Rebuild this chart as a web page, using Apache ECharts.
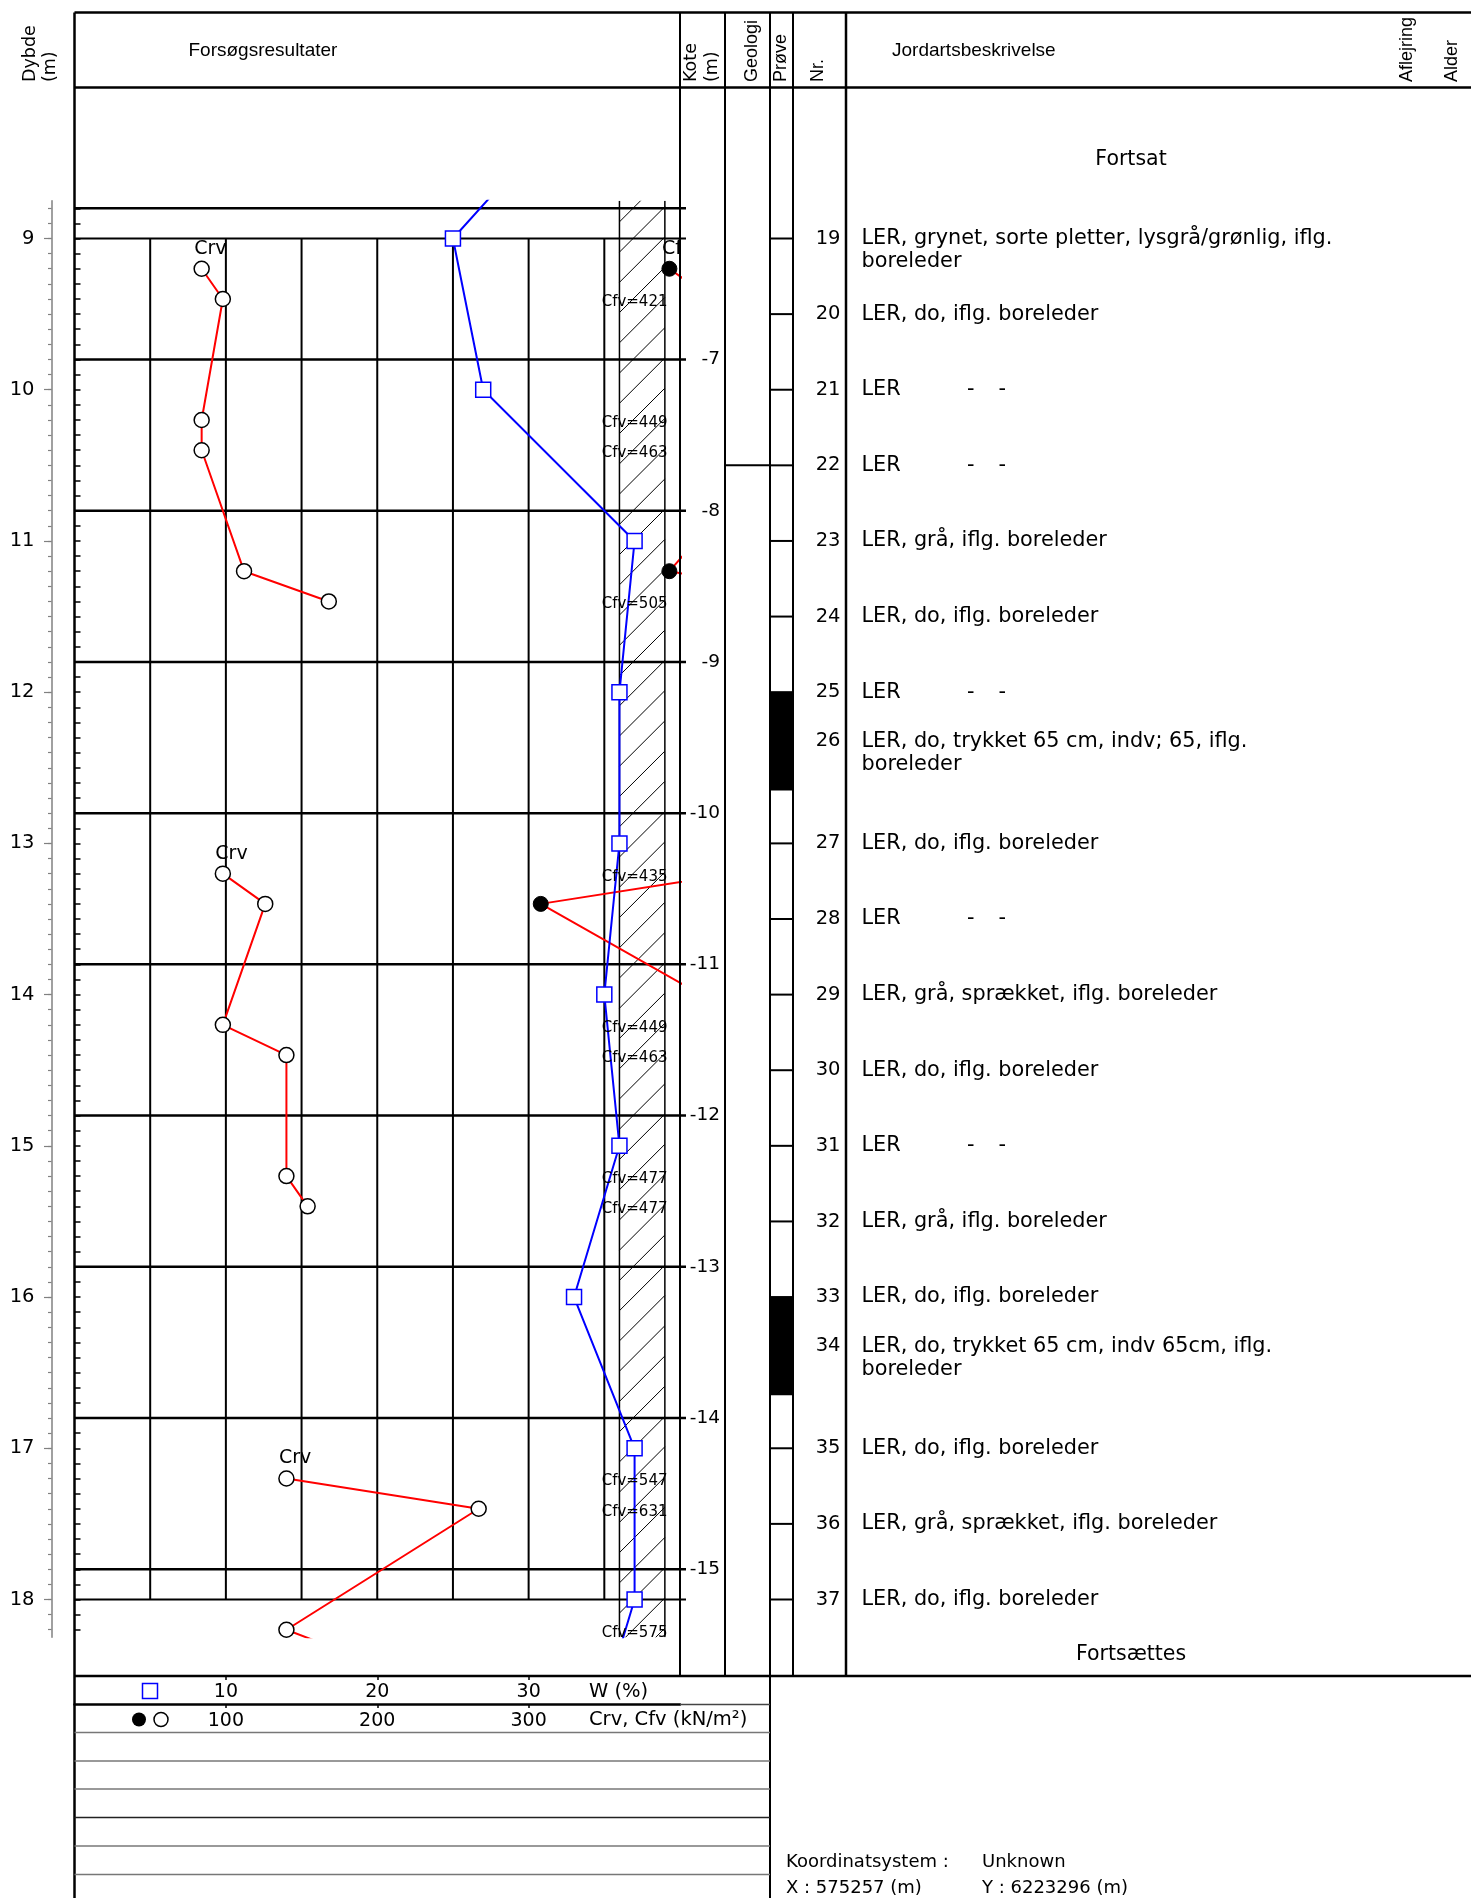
<!DOCTYPE html>
<html>
<head>
<meta charset="utf-8">
<script src="https://cdn.jsdelivr.net/npm/echarts@6/dist/echarts.min.js"></script>
<style>
  html, body { margin: 0; padding: 0; background: #fff; }
  #log { width: 1471px; height: 1898px; }
</style>
</head>
<body>
<div id="log"></div>
<script>
// ---- sheet window (depth below terrain, m) and terrain level ----
const depthWindow = [8.75, 18.25];
const terrainKote = 2.8;

// ---- water content W (%) ----
const wDepths = [8, 9, 10, 11, 12, 13, 14, 15, 16, 17, 18, 19];
const wValues = [34, 25, 27, 37, 36, 36, 35, 36, 33, 37, 37, 34];

// ---- vane tests: Crv (remoulded) and Cfv (intact), kN/m² ----
const vaneDepths1 = [9.2, 9.4, 10.2, 10.4, 11.2, 11.4];
const crv1 = [84, 98, 84, 84, 112, 168];
const cfv1 = [393, 421, 449, 463, 393, 505];

const vaneDepths2 = [13.2, 13.4, 14.2, 14.4, 15.2, 15.4];
const crv2 = [98, 126, 98, 140, 140, 154];
const cfv2 = [435, 308, 449, 463, 477, 477];

const vaneDepths3 = [17.2, 17.4, 18.2, 18.4];
const crv3 = [140, 267, 140, 192];
const cfv3 = [547, 631, 575];

// ---- samples ----
const sampleNr = [19, 20, 21, 22, 23, 24, 25, 26, 27, 28, 29, 30, 31, 32, 33, 34, 35, 36, 37];
const sampleDepths = [9, 9.5, 10, 10.5, 11, 11.5, 12, 12.325, 13, 13.5, 14, 14.5, 15, 15.5, 16, 16.325, 17, 17.5, 18];
const sampleText = [
  'LER, grynet, sorte pletter, lysgrå/grønlig, iflg.\nboreleder',
  'LER, do, iflg. boreleder',
  'LER  -  -',
  'LER  -  -',
  'LER, grå, iflg. boreleder',
  'LER, do, iflg. boreleder',
  'LER  -  -',
  'LER, do, trykket 65 cm, indv; 65, iflg.\nboreleder',
  'LER, do, iflg. boreleder',
  'LER  -  -',
  'LER, grå, sprækket, iflg. boreleder',
  'LER, do, iflg. boreleder',
  'LER  -  -',
  'LER, grå, iflg. boreleder',
  'LER, do, iflg. boreleder',
  'LER, do, trykket 65 cm, indv 65cm, iflg.\nboreleder',
  'LER, do, iflg. boreleder',
  'LER, grå, sprækket, iflg. boreleder',
  'LER, do, iflg. boreleder'
];
const pressedSamples = [[12.0, 12.65], [16.0, 16.65]];
const geologyBounds = [10.5];

// ---- scale furniture ----
const wGridLines = [5, 10, 15, 20, 25, 30, 35];
const depthFrameLines = [9, 18];
const koteLines = [-6, -7, -8, -9, -10, -11, -12, -13, -14, -15];
const koteLabels = [-7, -8, -9, -10, -11, -12, -13, -14, -15];
const depthLabels = [9, 10, 11, 12, 13, 14, 15, 16, 17, 18];
const hatchBand = [36, 39];      // W-range of the off-scale column
const offScaleLabelW = 37;       // where off-scale Cfv values are written
const cfvAxisMax = 400;

const SANS = "'DejaVu Sans', Verdana, sans-serif";
const ARIAL = "'Liberation Sans', Arial, sans-serif";

function steps(from, to, step) {
  const out = [];
  for (let v = from; v <= to + 1e-9; v += step) out.push(Math.round(v * 100) / 100);
  return out;
}
const depthMinorTicks = steps(8.8, 18.2, 0.1);
const koteMinorTicks = steps(-15.4, -6.0, 0.1);

function pairs(xs, ds) {
  const n = Math.min(xs.length, ds.length);
  const out = [];
  for (let i = 0; i < n; i++) out.push([xs[i], ds[i]]);
  return out;
}
const runs = [
  { d: vaneDepths1, crv: crv1, cfv: cfv1 },
  { d: vaneDepths2, crv: crv2, cfv: cfv2 },
  { d: vaneDepths3, crv: crv3, cfv: cfv3 }
];

// column positions (px) of the log sheet
const COL = { left: 74.5, kote: 680, geo: 725, prove: 770, nr: 793, desc: 846, right: 1471 };
const G = { left: 74.5, top: 200.7, width: 605.5, height: 1436.6 };

const chart = echarts.init(document.getElementById('log'), null, { renderer: 'canvas', width: 1471, height: 1898 });

// ---------- series ----------
const series = [];

// off-scale column with hatching
series.push({
  type: 'custom', xAxisIndex: 0, yAxisIndex: 0, clip: true, silent: true, z: 1,
  data: [[hatchBand[0], depthWindow[0]]],
  renderItem(params, api) {
    const a = api.coord([hatchBand[0], depthWindow[0]]);
    const b = api.coord([hatchBand[1], depthWindow[1]]);
    const w = b[0] - a[0];
    const step = Math.abs(api.size([0, 0.2])[1]);
    const ref = api.coord([hatchBand[0], 9.69])[1];
    let y0 = ref - w;
    while (y0 > a[1] - w) y0 -= step;
    const children = [];
    for (let y = y0; y < b[1] + w; y += step) {
      children.push({ type: 'line', shape: { x1: a[0], y1: y + w, x2: b[0], y2: y },
        style: { stroke: '#000', lineWidth: 1 } });
    }
    children.push({ type: 'line', shape: { x1: a[0], y1: a[1], x2: a[0], y2: b[1] }, style: { stroke: '#000', lineWidth: 1.5 } });
    children.push({ type: 'line', shape: { x1: b[0], y1: a[1], x2: b[0], y2: b[1] }, style: { stroke: '#000', lineWidth: 1.5 } });
    return { type: 'group', children };
  }
});

// vertical W grid lines between the frame depths
series.push({
  type: 'custom', xAxisIndex: 0, yAxisIndex: 0, clip: false, silent: true, z: 2,
  data: wGridLines.map(v => [v, depthFrameLines[0]]),
  renderItem(params, api) {
    const p = api.coord([api.value(0), depthFrameLines[0]]);
    const q = api.coord([api.value(0), depthFrameLines[1]]);
    return { type: 'line', shape: { x1: p[0], y1: p[1], x2: q[0], y2: q[1] }, style: { stroke: '#000', lineWidth: 2 } };
  }
});

// horizontal frame lines at depth 9 and 18
series.push({
  type: 'custom', xAxisIndex: 0, yAxisIndex: 0, clip: false, silent: true, z: 2,
  data: depthFrameLines.map(d => [0, d]),
  renderItem(params, api) {
    const p = api.coord([0, api.value(1)]);
    const q = api.coord([40, api.value(1)]);
    return { type: 'line', shape: { x1: p[0], y1: p[1], x2: q[0] + 6, y2: q[1] }, style: { stroke: '#000', lineWidth: 2 } };
  }
});

// level lines at whole kote metres
series.push({
  type: 'custom', xAxisIndex: 0, yAxisIndex: 1, clip: false, silent: true, z: 2,
  data: koteLines.map(k => [0, k]),
  renderItem(params, api) {
    const p = api.coord([0, api.value(1)]);
    const q = api.coord([40, api.value(1)]);
    return { type: 'line', shape: { x1: p[0], y1: p[1], x2: q[0] + 6, y2: q[1] }, style: { stroke: '#000', lineWidth: 2.5 } };
  }
});

// water content
series.push({
  type: 'line', xAxisIndex: 0, yAxisIndex: 0, clip: true, z: 6,
  data: pairs(wValues, wDepths),
  symbol: 'rect', symbolSize: 15, showAllSymbol: true,
  lineStyle: { color: '#0000ff', width: 2 },
  itemStyle: { color: '#fff', borderColor: '#0000ff', borderWidth: 1.5 },
  emphasis: { disabled: true }
});

// vane tests
runs.forEach(r => {
  series.push({
    type: 'line', xAxisIndex: 1, yAxisIndex: 0, clip: true, z: 5,
    data: pairs(r.cfv, r.d),
    symbol: 'circle', symbolSize: 15, showAllSymbol: true,
    lineStyle: { color: '#ff0000', width: 2 },
    itemStyle: { color: '#000', borderColor: '#000', borderWidth: 1 },
    emphasis: { disabled: true }
  });
  series.push({
    type: 'line', xAxisIndex: 1, yAxisIndex: 0, clip: true, z: 5,
    data: pairs(r.crv, r.d),
    symbol: 'circle', symbolSize: 15, showAllSymbol: true,
    lineStyle: { color: '#ff0000', width: 2 },
    itemStyle: { color: '#fff', borderColor: '#000', borderWidth: 1.5 },
    emphasis: { disabled: true }
  });
});

// run headers "Crv" / "Cfv" above the first test of each run
const runHeads = [];
runs.forEach(r => {
  runHeads.push([r.crv[0], r.d[0], 'Crv']);
  runHeads.push([r.cfv[0], r.d[0], 'Cfv']);
});
series.push({
  type: 'custom', xAxisIndex: 1, yAxisIndex: 0, clip: true, silent: true, z: 7,
  data: runHeads,
  renderItem(params, api) {
    const p = api.coord([api.value(0), api.value(1)]);
    return { type: 'text', x: p[0] - 7.5, y: p[1] - 20,
      style: { text: runHeads[params.dataIndex][2], fill: '#000', fontSize: 19, fontFamily: SANS, align: 'left', verticalAlign: 'middle' } };
  }
});

// intact strengths beyond the scale are written in the hatched column
const offScale = [];
runs.forEach(r => pairs(r.cfv, r.d).forEach(p => { if (p[0] > cfvAxisMax) offScale.push([offScaleLabelW, p[1], p[0]]); }));
series.push({
  type: 'custom', xAxisIndex: 0, yAxisIndex: 0, clip: false, silent: true, z: 7,
  data: offScale,
  renderItem(params, api) {
    const p = api.coord([api.value(0), api.value(1)]);
    return { type: 'text', x: p[0], y: p[1] + 3,
      style: { text: 'Cfv=' + offScale[params.dataIndex][2], fill: '#000', fontSize: 15, fontFamily: SANS, align: 'center', verticalAlign: 'middle' } };
  }
});

// sample column: marks and pressed-tube intervals
const pressedInside = d => pressedSamples.some(s => d > s[0] + 1e-6 && d < s[1]);
series.push({
  type: 'custom', xAxisIndex: 0, yAxisIndex: 0, clip: false, silent: true, z: 3,
  data: sampleDepths.filter(d => !pressedInside(d)).map(d => [0, d]),
  renderItem(params, api) {
    const y = api.coord([0, api.value(1)])[1];
    return { type: 'line', shape: { x1: COL.prove, y1: y, x2: COL.nr, y2: y }, style: { stroke: '#000', lineWidth: 2 } };
  }
});
series.push({
  type: 'custom', xAxisIndex: 0, yAxisIndex: 0, clip: false, silent: true, z: 3,
  data: pressedSamples.map(s => [0, s[0], s[1]]),
  renderItem(params, api) {
    const y1 = api.coord([0, api.value(1)])[1];
    const y2 = api.coord([0, api.value(2)])[1];
    return { type: 'rect', shape: { x: COL.prove, y: y1, width: COL.nr - COL.prove, height: y2 - y1 }, style: { fill: '#000' } };
  }
});

// geology boundaries
series.push({
  type: 'custom', xAxisIndex: 0, yAxisIndex: 0, clip: false, silent: true, z: 3,
  data: geologyBounds.map(d => [0, d]),
  renderItem(params, api) {
    const y = api.coord([0, api.value(1)])[1];
    return { type: 'line', shape: { x1: COL.geo, y1: y, x2: COL.prove, y2: y }, style: { stroke: '#000', lineWidth: 2 } };
  }
});

// sample numbers and soil descriptions
series.push({
  type: 'custom', xAxisIndex: 0, yAxisIndex: 0, clip: false, silent: true, z: 3,
  data: sampleDepths.map(d => [0, d]),
  renderItem(params, api) {
    const i = params.dataIndex;
    const y = api.coord([0, api.value(1)])[1];
    const children = [{
      type: 'text', x: COL.desc - 5.5, y: y,
      style: { text: String(sampleNr[i]), fill: '#000', fontSize: 19.5, fontFamily: SANS, align: 'right', verticalAlign: 'middle' }
    }];
    const cells = sampleText[i].split(/ {2,}/);
    const cellX = [COL.desc + 15.5, COL.desc + 121, COL.desc + 152.5];
    cells.forEach((c, k) => {
      children.push({
        type: 'text', x: cellX[k], y: y - 11.7,
        style: { text: c, fill: '#000', fontSize: 20.8, fontFamily: SANS, lineHeight: 23.4, align: 'left', verticalAlign: 'top' }
      });
    });
    return { type: 'group', children };
  }
});

// ---------- sheet frame ----------
const frameLines = [
  [COL.left, 12.5, COL.right, 12.5, 2.5],
  [COL.left, 87.5, COL.right, 87.5, 2.5],
  [COL.left, 12.5, COL.left, 1898, 2.5],
  [COL.kote, 12.5, COL.kote, 1676, 2],
  [COL.geo, 12.5, COL.geo, 1676, 2],
  [COL.prove, 12.5, COL.prove, 1898, 2],
  [COL.nr, 12.5, COL.nr, 1676, 2],
  [COL.desc, 12.5, COL.desc, 1676, 2.5],
  [COL.left, 1676, COL.right, 1676, 2.5],
  [COL.kote, 1704.5, COL.prove, 1704.5, 1.5, '#444'],
  [COL.left, 1732.5, COL.prove, 1732.5, 1.5, '#777'],
  [COL.left, 1761, COL.prove, 1761, 1.5, '#777'],
  [COL.left, 1789, COL.prove, 1789, 1.5, '#777'],
  [COL.left, 1817.5, COL.prove, 1817.5, 1.5, '#222'],
  [COL.left, 1846, COL.prove, 1846, 1.5, '#777'],
  [COL.left, 1874.5, COL.prove, 1874.5, 1.5, '#777']
];
const graphic = frameLines.map(l => ({
  type: 'line', silent: true, z: 10,
  shape: { x1: l[0], y1: l[1], x2: l[2], y2: l[3] },
  style: { stroke: l[5] || '#000', lineWidth: l[4] }
}));

function txt(text, x, y, size, family, align, rot) {
  return {
    type: 'text', x, y, rotation: rot || 0, silent: true, z: 10,
    style: { text, fill: '#000', fontSize: size, fontFamily: family, align: align || 'left', verticalAlign: 'middle' }
  };
}
const R = Math.PI / 2;
graphic.push(
  txt('Dybde', 30, 82, 17.5, SANS, 'left', R),
  txt('(m)', 50, 82, 17.5, SANS, 'left', R),
  txt('Forsøgsresultater', 188.5, 51, 19, ARIAL),
  txt('Kote', 691, 82, 17.5, SANS, 'left', R),
  txt('(m)', 712.5, 82, 17.5, SANS, 'left', R),
  txt('Geologi', 752, 82, 18, ARIAL, 'left', R),
  txt('Prøve', 781.5, 82, 18, ARIAL, 'left', R),
  txt('Nr.', 818.5, 82, 18, ARIAL, 'left', R),
  txt('Jordartsbeskrivelse', 892, 51, 19, ARIAL),
  txt('Aflejring', 1407, 82, 18, ARIAL, 'left', R),
  txt('Alder', 1452, 82, 18, ARIAL, 'left', R),
  txt('Fortsat', 1131, 159.5, 20.5, SANS, 'center'),
  txt('Fortsættes', 1131, 1655, 20.5, SANS, 'center'),
  txt('W (%)', 589, 1692, 19.5, SANS),
  txt('Crv, Cfv (kN/m²)', 589, 1720, 19.5, SANS),
  txt('Koordinatsystem :', 786, 1862, 18, SANS),
  txt('Unknown', 982, 1862, 18, SANS),
  txt('X : 575257 (m)', 786, 1888, 18, SANS),
  txt('Y : 6223296 (m)', 982, 1888, 18, SANS),
  { type: 'rect', silent: true, z: 10, shape: { x: 142.5, y: 1683.5, width: 15, height: 15 },
    style: { fill: '#fff', stroke: '#0000ff', lineWidth: 1.5 } },
  { type: 'circle', silent: true, z: 10, shape: { cx: 139, cy: 1719.5, r: 7 }, style: { fill: '#000' } },
  { type: 'circle', silent: true, z: 10, shape: { cx: 161, cy: 1719.5, r: 7 },
    style: { fill: '#fff', stroke: '#000', lineWidth: 1.5 } }
);

// ---------- axes ----------
const labelStyle = { color: '#000', fontFamily: SANS };
const option = {
  animation: false,
  backgroundColor: '#fff',
  textStyle: { fontFamily: SANS, color: '#000' },
  grid: [{ left: G.left, top: G.top, width: G.width, height: G.height, show: false, outerBoundsMode: 'none', containLabel: false }],
  xAxis: [
    { type: 'value', gridIndex: 0, position: 'bottom', offset: 38.7, min: 0, max: 40, interval: 10,
      axisLine: { show: false },
      axisTick: { show: true, length: 4, lineStyle: { color: '#000', width: 1.5 } },
      axisLabel: Object.assign({ showMinLabel: false, showMaxLabel: false, fontSize: 19, margin: 7 }, labelStyle),
      splitLine: { show: false } },
    { type: 'value', gridIndex: 0, position: 'bottom', offset: 67.2, min: 0, max: cfvAxisMax, interval: 100,
      axisLine: { show: true, lineStyle: { color: '#000', width: 2.5 } },
      axisTick: { show: true, length: 3.5, lineStyle: { color: '#000', width: 1.5 } },
      axisLabel: Object.assign({ showMinLabel: false, showMaxLabel: false, fontSize: 19, margin: 7 }, labelStyle),
      splitLine: { show: false } }
  ],
  yAxis: [
    { type: 'value', gridIndex: 0, inverse: true, min: depthWindow[0], max: depthWindow[1], show: false },
    { type: 'value', gridIndex: 0, position: 'right', min: terrainKote - depthWindow[1], max: terrainKote - depthWindow[0],
      axisLine: { show: false },
      axisTick: { show: true, length: 6, customValues: koteMinorTicks, lineStyle: { color: '#000', width: 1.5 } },
      axisLabel: Object.assign({ customValues: koteLabels, fontSize: 18.5, margin: 40, align: 'right' }, labelStyle),
      splitLine: { show: false } },
    { type: 'value', gridIndex: 0, position: 'left', offset: 23, inverse: true, min: depthWindow[0], max: depthWindow[1],
      axisLine: { show: true, lineStyle: { color: '#808080', width: 1.5 } },
      axisTick: { show: true, length: 3.5, customValues: depthMinorTicks, lineStyle: { color: '#808080', width: 1.2 } },
      axisLabel: { show: false }, splitLine: { show: false } },
    { type: 'value', gridIndex: 0, position: 'left', offset: 23, inverse: true, min: depthWindow[0], max: depthWindow[1],
      axisLine: { show: false },
      axisTick: { show: true, length: 7.5, customValues: depthLabels, lineStyle: { color: '#808080', width: 1.2 } },
      axisLabel: Object.assign({ customValues: depthLabels, fontSize: 19.5, margin: 17 }, labelStyle),
      splitLine: { show: false } }
  ],
  series,
  graphic: { elements: graphic }
};
chart.setOption(option);
</script>
</body>
</html>
